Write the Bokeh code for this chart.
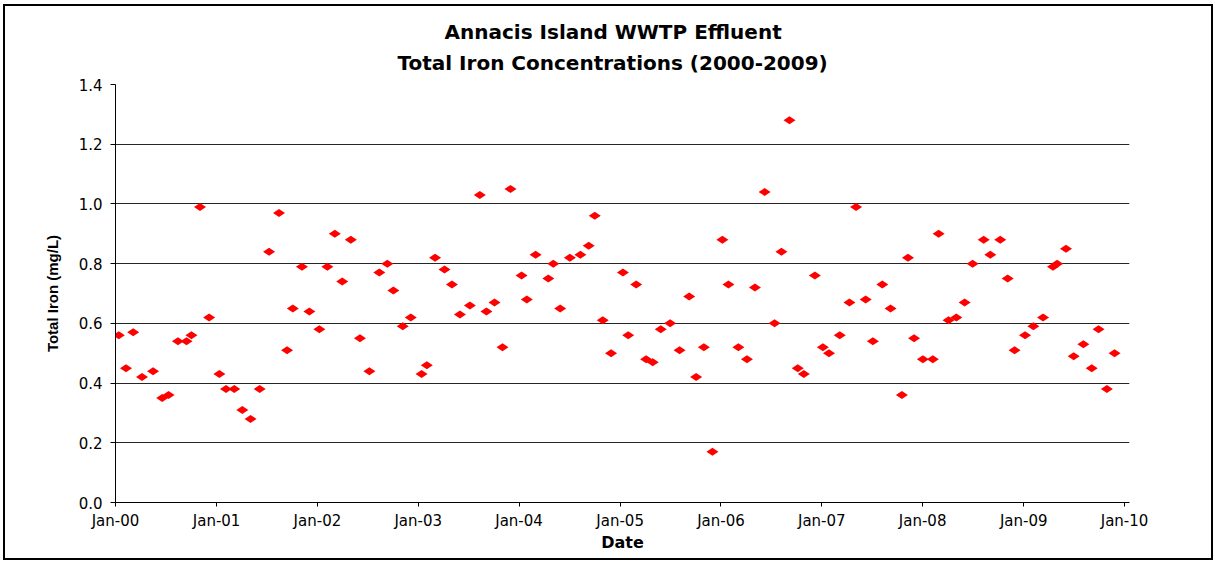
import pandas as pd
from bokeh.plotting import figure
from bokeh.models import (Title, DatetimeTickFormatter, FixedTicker, NumeralTickFormatter,
                          Range1d, ColumnDataSource)
from bokeh.embed import file_html
from bokeh.resources import INLINE

title_line1 = "Annacis Island WWTP Effluent"
title_line2 = "Total Iron Concentrations (2000-2009)"
x_label = "Date"
y_label = "Total Iron (mg/L)"

sample_dates = [
    "2000-01-13", "2000-02-08", "2000-03-05", "2000-04-06", "2000-05-16", "2000-06-18",
    "2000-07-11", "2000-08-14", "2000-09-14", "2000-10-02", "2000-11-02", "2000-12-05",
    "2001-01-11", "2001-02-04", "2001-03-06", "2001-04-04", "2001-05-04", "2001-06-06",
    "2001-07-10", "2001-08-15", "2001-09-13", "2001-10-04", "2001-11-06", "2001-12-03",
    "2002-01-08", "2002-02-06", "2002-03-05", "2002-04-01", "2002-05-02", "2002-06-04",
    "2002-07-08", "2002-08-13", "2002-09-11", "2002-10-03", "2002-11-06", "2002-12-05",
    "2003-01-13", "2003-02-01", "2003-03-03", "2003-04-06", "2003-05-03", "2003-06-01",
    "2003-07-07", "2003-08-12", "2003-09-05", "2003-10-04", "2003-11-02", "2003-12-01",
    "2004-01-10", "2004-01-29", "2004-03-01", "2004-04-16", "2004-05-04", "2004-05-29",
    "2004-07-03", "2004-08-10", "2004-09-09", "2004-10-01", "2004-10-30", "2004-11-29",
    "2005-01-11", "2005-01-30", "2005-02-28", "2005-04-05", "2005-04-29", "2005-05-28",
    "2005-07-01", "2005-08-04", "2005-09-08", "2005-10-03", "2005-10-31", "2005-12-01",
    "2006-01-06", "2006-01-28", "2006-03-05", "2006-04-05", "2006-05-04", "2006-06-08",
    "2006-07-14", "2006-08-08", "2006-09-06", "2006-10-06", "2006-10-28", "2006-12-07",
    "2007-01-05", "2007-01-27", "2007-03-07", "2007-04-11", "2007-05-05", "2007-06-09",
    "2007-07-05", "2007-08-08", "2007-09-07", "2007-10-18", "2007-11-09", "2007-12-01",
    "2008-01-02", "2008-02-07", "2008-02-28", "2008-04-04", "2008-05-02", "2008-06-01",
    "2008-06-30", "2008-08-09", "2008-09-02", "2008-10-08", "2008-11-04", "2008-11-29",
    "2009-01-06", "2009-02-05", "2009-03-12", "2009-04-17", "2009-05-02", "2009-06-03",
    "2009-07-01", "2009-08-05", "2009-09-04", "2009-09-29", "2009-10-29", "2009-11-26",
]
total_iron = [
    0.56, 0.45, 0.57, 0.42, 0.44, 0.35, 0.36, 0.54, 0.54, 0.56, 0.99, 0.62,
    0.43, 0.38, 0.38, 0.31, 0.28, 0.38, 0.84, 0.97, 0.51, 0.65, 0.79, 0.64,
    0.58, 0.79, 0.90, 0.74, 0.88, 0.55, 0.44, 0.77, 0.80, 0.71, 0.59, 0.62,
    0.43, 0.46, 0.82, 0.78, 0.73, 0.63, 0.66, 1.03, 0.64, 0.67, 0.52, 1.05,
    0.76, 0.68, 0.83, 0.75, 0.80, 0.65, 0.82, 0.83, 0.86, 0.96, 0.61, 0.50,
    0.77, 0.56, 0.73, 0.48, 0.47, 0.58, 0.60, 0.51, 0.69, 0.42, 0.52, 0.17,
    0.88, 0.73, 0.52, 0.48, 0.72, 1.04, 0.60, 0.84, 1.28, 0.45, 0.43, 0.76,
    0.52, 0.50, 0.56, 0.67, 0.99, 0.68, 0.54, 0.73, 0.65, 0.36, 0.82, 0.55,
    0.48, 0.48, 0.90, 0.61, 0.62, 0.67, 0.80, 0.88, 0.83, 0.88, 0.75, 0.51,
    0.56, 0.59, 0.62, 0.79, 0.80, 0.85, 0.49, 0.53, 0.45, 0.58, 0.38, 0.50,
]
tick_years = list(range(2000, 2011))
y_ticks = [0.0, 0.2, 0.4, 0.6, 0.8, 1.0, 1.2, 1.4]

source = ColumnDataSource(dict(date=pd.to_datetime(sample_dates), iron=total_iron))

x_start = pd.Timestamp("2000-01-01")
x_end = pd.Timestamp("2010-01-19")

p = figure(width=1210, height=556, output_backend="svg", toolbar_location=None,
           x_axis_type="datetime",
           x_range=Range1d(x_start, x_end), y_range=Range1d(0, 1.4),
           min_border_left=110, min_border_right=86, min_border_top=78, min_border_bottom=60,
           background_fill_color="white", border_fill_color="white",
           outline_line_color=None,
           styles={"border": "2px solid black", "margin-left": "3px", "margin-top": "4px"})

p.scatter("date", "iron", source=source, marker="diamond", size=12, angle=90,
          angle_units="deg", fill_color="#FF0000", line_color=None)

# titles (p.title is the top line; the added one sits closer to the plot)
p.title.text = title_line1
p.title.align = "left"
p.title.offset = 329
p.title.text_font = "DejaVu Sans"
p.title.text_font_size = "20px"
p.title.text_font_style = "bold"
p.title.text_color = "black"
p.title.vertical_align = "bottom"
p.title.standoff = 0
p.add_layout(Title(text=title_line2, align="left", offset=282, text_font="DejaVu Sans",
                   text_font_size="20px", text_font_style="bold", text_color="black",
                   vertical_align="top", standoff=15), "above")

# x axis
xa = p.xaxis[0]
xa.ticker = FixedTicker(ticks=[pd.Timestamp(f"{y}-01-01").value // 10**6 for y in tick_years])
xa.formatter = DatetimeTickFormatter(years="%b-%y", months="%b-%y", days="%b-%y")
xa.major_tick_in = 0
xa.major_tick_out = 4
xa.minor_tick_out = 0
xa.minor_tick_in = 0
xa.axis_line_color = "black"
xa.major_tick_line_color = "black"
xa.major_label_text_font = "DejaVu Sans"
xa.major_label_text_font_size = "15px"
xa.major_label_text_color = "black"
xa.major_label_standoff = 5
xa.axis_label = x_label
xa.axis_label_text_font = "DejaVu Sans"
xa.axis_label_text_font_size = "16px"
xa.axis_label_text_font_style = "bold"
xa.axis_label_text_color = "black"
xa.axis_label_standoff = 0

# y axis
ya = p.yaxis[0]
ya.ticker = FixedTicker(ticks=y_ticks)
ya.formatter = NumeralTickFormatter(format="0.0")
ya.major_tick_in = 0
ya.major_tick_out = 5
ya.minor_tick_out = 0
ya.minor_tick_in = 0
ya.axis_line_color = "black"
ya.major_tick_line_color = "black"
ya.major_label_text_font = "DejaVu Sans"
ya.major_label_text_font_size = "15px"
ya.major_label_text_color = "black"
ya.major_label_standoff = 8
ya.axis_label = y_label
ya.axis_label_text_font = "Liberation Sans"
ya.axis_label_text_font_size = "15px"
ya.axis_label_text_font_style = "bold"
ya.axis_label_text_color = "black"
ya.axis_label_standoff = 15

p.xgrid.grid_line_color = None
p.ygrid.grid_line_color = "black"
p.ygrid.grid_line_alpha = 0.85
p.ygrid.grid_line_width = 1

open("out.html", "w").write(file_html(p, INLINE))
